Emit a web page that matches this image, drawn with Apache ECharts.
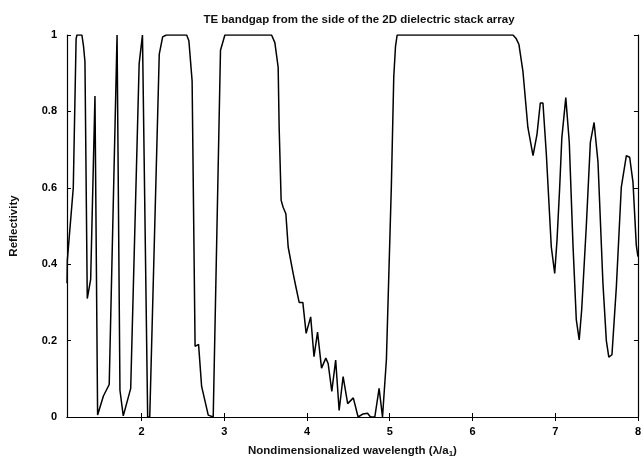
<!DOCTYPE html>
<html>
<head>
<meta charset="utf-8">
<script src="https://cdn.jsdelivr.net/npm/echarts@6/dist/echarts.min.js"></script>
<style>html,body{margin:0;padding:0;background:#fff;}#c{width:644px;height:463px;}</style>
</head>
<body>
<div id="c"></div>
<script>
var titleText = 'TE bandgap from the side of the 2D dielectric stack array';
var xTicks = [2, 3, 4, 5, 6, 7, 8];
var yTicks = [0, 0.2, 0.4, 0.6, 0.8, 1];
var wavelength = [
  1.100, 1.104, 1.176, 1.210, 1.220, 1.280, 1.300, 1.317, 1.345, 1.386, 1.438, 1.470, 1.540, 1.610,
  1.705, 1.740, 1.780, 1.870, 1.972, 2.012, 2.075, 2.100, 2.215, 2.256, 2.300, 2.546, 2.573, 2.612,
  2.648, 2.690, 2.727, 2.807, 2.867, 2.955, 3.008, 3.572, 3.612, 3.652, 3.664, 3.688, 3.712, 3.745,
  3.773, 3.833, 3.866, 3.906, 3.950, 3.990, 4.045, 4.085, 4.128, 4.176, 4.228, 4.256, 4.300, 4.347,
  4.389, 4.437, 4.492, 4.560, 4.618, 4.678, 4.732, 4.768, 4.820, 4.872, 4.913, 4.960, 5.020, 5.049,
  5.070, 5.090, 6.490, 6.530, 6.562, 6.610, 6.670, 6.732, 6.780, 6.820, 6.852, 6.893, 6.953, 6.994,
  7.022, 7.054, 7.080, 7.128, 7.170, 7.215, 7.255, 7.290, 7.320, 7.376, 7.425, 7.470, 7.517, 7.577,
  7.618, 7.648, 7.686, 7.739, 7.799, 7.860, 7.900, 7.940, 7.980, 8.000
];
var reflectivity = [
  0.35, 0.41, 0.60, 0.99, 1.00, 1.00, 0.97, 0.93, 0.31, 0.36, 0.84, 0.005, 0.055, 0.085,
  1.00, 0.07, 0.003, 0.075, 0.925, 1.00, 0.00, 0.00, 0.95, 0.995, 1.00, 1.00, 0.985, 0.88,
  0.185, 0.19, 0.08, 0.005, 0.00, 0.96, 1.00, 1.00, 0.98, 0.915, 0.757, 0.567, 0.549, 0.532,
  0.445, 0.376, 0.341, 0.30, 0.30, 0.219, 0.262, 0.158, 0.222, 0.128, 0.154, 0.14, 0.067, 0.149,
  0.017, 0.106, 0.035, 0.05, 0.0, 0.008, 0.01, 0.0, 0.0, 0.075, 0.0, 0.15, 0.605, 0.89,
  0.97, 1.00, 1.00, 0.99, 0.975, 0.905, 0.758, 0.684, 0.74, 0.822, 0.822, 0.688, 0.445, 0.376,
  0.463, 0.60, 0.73, 0.836, 0.72, 0.45, 0.255, 0.202, 0.28, 0.50, 0.719, 0.771, 0.668, 0.35,
  0.20, 0.157, 0.163, 0.34, 0.602, 0.684, 0.68, 0.615, 0.45, 0.42
];

var data = wavelength.map(function (x, i) { return [x, reflectivity[i]]; });
var FONT = 'Liberation Sans';
var chart = echarts.init(document.getElementById('c'));
var axisLine = { show: true, lineStyle: { color: '#000', width: 1.2 } };
var tickStyle = { color: '#000', width: 1 };
chart.setOption({
  animation: false,
  backgroundColor: '#fff',
  title: {
    text: titleText,
    left: 354, top: 9, textAlign: 'center',
    textStyle: { fontFamily: FONT, fontSize: 11.5, fontWeight: 'bold', color: '#111' }
  },
  grid: { left: 67, right: 6, top: 35, bottom: 44, containLabel: false },
  xAxis: [{
    type: 'value', min: 1.1, max: 8, position: 'bottom',
    axisLine: axisLine,
    axisTick: { show: true, inside: true, length: 4, lineStyle: tickStyle, customValues: xTicks },
    axisLabel: { show: true, customValues: xTicks, margin: 9, color: '#000', fontFamily: FONT, fontSize: 11, fontWeight: 'bold' },
    splitLine: { show: false },
    name: '{a|Nondimensionalized wavelength (λ/a}{s|1}{a|)}',
    nameLocation: 'middle', nameGap: 27,
    nameTextStyle: {
      rich: {
        a: { fontFamily: FONT, fontSize: 11.5, fontWeight: 'bold', color: '#111' },
        s: { fontFamily: FONT, fontSize: 8, fontWeight: 'bold', color: '#111', verticalAlign: 'bottom', padding: [6, 0, 0, 0] }
      }
    }
  }, {
    type: 'value', min: 1.1, max: 8, position: 'top',
    axisLine: axisLine,
    axisTick: { show: true, inside: true, length: 4, lineStyle: tickStyle, customValues: xTicks },
    axisLabel: { show: false },
    splitLine: { show: false }
  }],
  yAxis: [{
    type: 'value', min: 0, max: 1, interval: 0.2, position: 'left',
    axisLine: axisLine,
    axisTick: { show: true, inside: true, length: 4, lineStyle: tickStyle },
    axisLabel: { show: true, margin: 10, color: '#000', fontFamily: FONT, fontSize: 11, fontWeight: 'bold',
      formatter: function (v) { return String(Math.round(v * 10) / 10); } },
    splitLine: { show: false },
    name: 'Reflectivity', nameLocation: 'middle', nameGap: 47, nameRotate: 90,
    nameTextStyle: { fontFamily: FONT, fontSize: 11.5, fontWeight: 'bold', color: '#111' }
  }, {
    type: 'value', min: 0, max: 1, interval: 0.2, position: 'right',
    axisLine: axisLine,
    axisTick: { show: true, inside: true, length: 4, lineStyle: tickStyle },
    axisLabel: { show: false },
    splitLine: { show: false }
  }],
  series: [{
    type: 'line', data: data, xAxisIndex: 0, yAxisIndex: 0,
    showSymbol: false, symbol: 'none', smooth: false,
    lineStyle: { color: '#000', width: 1.5 },
    clip: true
  }]
});
</script>
</body>
</html>
